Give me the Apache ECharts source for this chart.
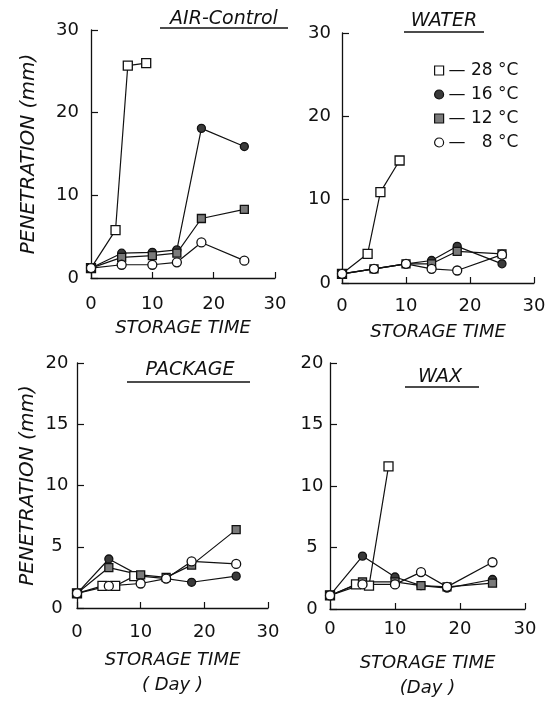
<!DOCTYPE html>
<html>
<head>
<meta charset="utf-8">
<script src="https://cdn.jsdelivr.net/npm/echarts@6/dist/echarts.min.js"></script>
<style>
  html, body { margin: 0; padding: 0; background: #fff; }
  #main { width: 556px; height: 702px; }
</style>
</head>
<body>
<div id="main"></div>
<script>
// storage days (28 C was sampled on its own, shorter schedule)
var days = [0, 5, 10, 14, 18, 25];
var days28 = [0, 4, 6, 9];
var xTicks = [0, 10, 20, 30];

// penetration (mm)
var air28 = [1.2, 5.8, 25.7, 26.0];
var air16 = [1.2, 3.0, 3.1, 3.4, 18.1, 15.9];
var air12 = [1.2, 2.5, 2.7, 3.0, 7.2, 8.3];
var air8 = [1.2, 1.6, 1.6, 1.9, 4.3, 2.1];

var water28 = [1.1, 3.5, 10.9, 14.7];
var water16 = [1.1, 1.7, 2.3, 2.7, 4.4, 2.3];
var water12 = [1.1, 1.7, 2.3, 2.3, 3.8, 3.5];
var water8 = [1.1, 1.7, 2.3, 1.7, 1.5, 3.4];

var package28 = [1.2, 1.8, 1.8, 2.6];
var package16 = [1.2, 4.0, 2.6, 2.4, 2.1, 2.6];
var package12 = [1.2, 3.3, 2.7, 2.5, 3.5, 6.4];
var package8 = [1.2, 1.8, 2.0, 2.4, 3.8, 3.6];

var wax28 = [1.1, 2.0, 1.9, 11.6];
var wax16 = [1.1, 4.3, 2.6, 1.9, 1.7, 2.4];
var wax12 = [1.1, 2.2, 2.2, 1.9, 1.8, 2.1];
var wax8 = [1.1, 2.0, 2.0, 3.0, 1.8, 3.8];

var temps = ['28 °C', '16 °C', '12 °C', '8 °C'];

var ink = '#111';
var font = 'DejaVu Sans';

// marker look for each temperature
var marks = {
  '28 °C': { symbol: 'rect', size: 9, fill: '#fff' },
  '16 °C': { symbol: 'circle', size: 8, fill: '#3a3a3a' },
  '12 °C': { symbol: 'rect', size: 8, fill: '#7a7a7a' },
  '8 °C': { symbol: 'circle', size: 9, fill: '#fff' }
};

function pairs(xs, ys) {
  var out = [];
  for (var i = 0; i < ys.length; i++) out.push([xs[i], ys[i]]);
  return out;
}

function line(name, idx, xs, ys) {
  var m = marks[name];
  return {
    name: name,
    type: 'line',
    xAxisIndex: idx,
    yAxisIndex: idx,
    data: pairs(xs, ys),
    symbol: m.symbol,
    symbolSize: m.size,
    showAllSymbol: true,
    lineStyle: { color: ink, width: 1.2 },
    itemStyle: { color: m.fill, borderColor: ink, borderWidth: 1.3 },
    emphasis: { disabled: true },
    animation: false
  };
}

// panel boxes: [left, top, width, height]
var grids = [
  [91, 30, 184, 248],
  [342, 33, 192, 250],
  [77, 363, 191, 245],
  [330, 363, 195, 252]
];

var yMax = [30, 30, 20, 20];
var yStep = [10, 10, 5, 5];
var yLabelAlign = ['right', 'right', 'center', 'center'];
var yLabelMargin = [12, 11, 20, 18];
var xLabelMargin = [17, 14, 15, 11];
var xNames = ['STORAGE TIME', 'STORAGE TIME', 'STORAGE TIME\n( Day )', 'STORAGE TIME\n(Day )'];
var xNameGap = [38, 37, 40, 42];
var yNames = ['PENETRATION (mm)', '', 'PENETRATION (mm)', ''];
var yNameGap = [52, 0, 39, 0];

var chart = echarts.init(document.getElementById('main'));

var option = {
  backgroundColor: '#fff',
  textStyle: { fontFamily: font, color: ink },
  grid: grids.map(function (g) {
    return { left: g[0], top: g[1], width: g[2], height: g[3] };
  }),
  xAxis: grids.map(function (g, i) {
    return {
      type: 'value',
      gridIndex: i,
      min: 0,
      max: 30,
      interval: 10,
      name: xNames[i],
      nameLocation: 'middle',
      nameGap: xNameGap[i],
      nameTextStyle: { fontFamily: font, fontSize: 18, fontStyle: 'italic', color: ink, lineHeight: 25 },
      axisLine: { lineStyle: { color: ink, width: 1.3 } },
      axisTick: { inside: true, length: 6, lineStyle: { color: ink, width: 1.2 } },
      axisLabel: {
        margin: xLabelMargin[i],
        fontFamily: font,
        fontSize: 18,
        color: ink,
        formatter: function (v) { return xTicks.indexOf(v) >= 0 ? String(v) : ''; }
      },
      splitLine: { show: false }
    };
  }),
  yAxis: grids.map(function (g, i) {
    return {
      type: 'value',
      gridIndex: i,
      min: 0,
      max: yMax[i],
      interval: yStep[i],
      name: yNames[i],
      nameLocation: 'middle',
      nameGap: yNameGap[i],
      nameTextStyle: { fontFamily: font, fontSize: 20, fontStyle: 'italic', color: ink },
      axisLine: { show: true, lineStyle: { color: ink, width: 1.3 } },
      axisTick: { inside: true, length: 7, lineStyle: { color: ink, width: 1.2 } },
      axisLabel: {
        margin: yLabelMargin[i],
        align: yLabelAlign[i],
        fontFamily: font,
        fontSize: 18,
        color: ink
      },
      splitLine: { show: false }
    };
  }),
  legend: {
    orient: 'vertical',
    left: 429,
    top: 57,
    itemWidth: 9,
    itemHeight: 9,
    itemGap: 7,
    selectedMode: false,
    textStyle: { fontFamily: font, fontSize: 17, color: ink },
    formatter: function (name) {
      return name.length < 5 ? '—   ' + name : '— ' + name;
    },
    data: temps.map(function (t) {
      var m = marks[t];
      return {
        name: t,
        icon: m.symbol,
        itemStyle: { color: m.fill, borderColor: ink, borderWidth: 1.2 }
      };
    })
  },
  graphic: [
    { type: 'text', style: { text: 'AIR-Control', x: 224, y: 19, align: 'center', verticalAlign: 'middle', font: 'italic 19px "DejaVu Sans"', fill: ink } },
    { type: 'line', shape: { x1: 160, y1: 28, x2: 288, y2: 28 }, style: { stroke: ink, lineWidth: 1.3 } },
    { type: 'text', style: { text: 'WATER', x: 444, y: 21, align: 'center', verticalAlign: 'middle', font: 'italic 19px "DejaVu Sans"', fill: ink } },
    { type: 'line', shape: { x1: 404, y1: 32, x2: 484, y2: 32 }, style: { stroke: ink, lineWidth: 1.3 } },
    { type: 'text', style: { text: 'PACKAGE', x: 190, y: 370, align: 'center', verticalAlign: 'middle', font: 'italic 19px "DejaVu Sans"', fill: ink } },
    { type: 'line', shape: { x1: 127, y1: 382, x2: 250, y2: 382 }, style: { stroke: ink, lineWidth: 1.3 } },
    { type: 'text', style: { text: 'WAX', x: 440, y: 377, align: 'center', verticalAlign: 'middle', font: 'italic 19px "DejaVu Sans"', fill: ink } },
    { type: 'line', shape: { x1: 405, y1: 387, x2: 479, y2: 387 }, style: { stroke: ink, lineWidth: 1.3 } }
  ],
  series: [
    line('28 °C', 0, days28, air28),
    line('16 °C', 0, days, air16),
    line('12 °C', 0, days, air12),
    line('8 °C', 0, days, air8),

    line('28 °C', 1, days28, water28),
    line('16 °C', 1, days, water16),
    line('12 °C', 1, days, water12),
    line('8 °C', 1, days, water8),

    line('28 °C', 2, days28, package28),
    line('16 °C', 2, days, package16),
    line('12 °C', 2, days, package12),
    line('8 °C', 2, days, package8),

    line('28 °C', 3, days28, wax28),
    line('16 °C', 3, days, wax16),
    line('12 °C', 3, days, wax12),
    line('8 °C', 3, days, wax8)
  ]
};

chart.setOption(option);
</script>
</body>
</html>
